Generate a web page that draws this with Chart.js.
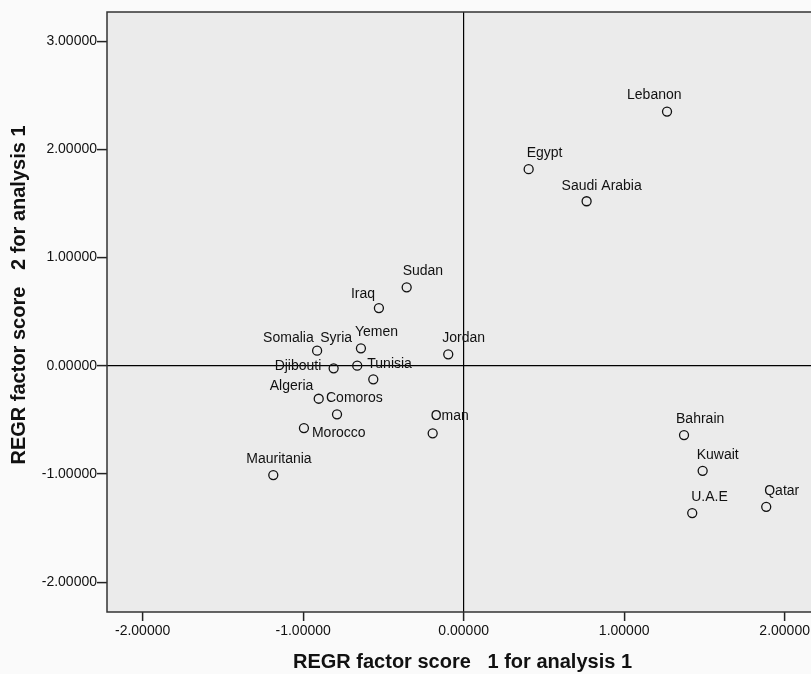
<!DOCTYPE html>
<html>
<head>
<meta charset="utf-8">
<script src="https://cdn.jsdelivr.net/npm/chart.js@4"></script>
<style>
  html, body { margin: 0; padding: 0; background: #fafafa; overflow: hidden; }
  #myChart { display: block; }
</style>
</head>
<body>
<canvas id="myChart" width="811" height="674"></canvas>
<script>
// factor scores per country
const countries = ['Lebanon', 'Egypt', 'Saudi Arabia', 'Sudan', 'Iraq', 'Somalia', 'Syria', 'Yemen', 'Jordan', 'Djibouti',
	'Tunisia', 'Algeria', 'Comoros', 'Morocco', 'Oman', 'Mauritania', 'Bahrain', 'Kuwait', 'U.A.E', 'Qatar']
const factor1 = [1.267, 0.405, 0.766, -0.355, -0.528, -0.913, -0.663, -0.640, -0.096, -0.810,
	-0.563, -0.903, -0.789, -0.995, -0.193, -1.186, 1.373, 1.489, 1.424, 1.885]
const factor2 = [2.350, 1.817, 1.521, 0.726, 0.534, 0.140, 0.001, 0.162, 0.106, -0.023,
	-0.125, -0.304, -0.448, -0.575, -0.624, -1.010, -0.640, -0.970, -1.361, -1.303]

const xTitle = 'REGR factor score   1 for analysis 1'
const yTitle = 'REGR factor score   2 for analysis 1'

// where each name sits relative to its marker (left edge, vertical middle)
const labelOffsets = {
	'Lebanon': [-40, -16], 'Egypt': [-2, -16], 'Saudi Arabia': [-25, -15], 'Sudan': [-4, -16],
	'Iraq': [-28, -14], 'Somalia': [-54, -13], 'Syria': [-37, -28], 'Yemen': [-6, -16],
	'Jordan': [-6, -16], 'Djibouti': [-59, -2], 'Tunisia': [-6, -15], 'Algeria': [-49, -13],
	'Comoros': [-11, -16], 'Morocco': [8, 5], 'Oman': [-2, -17], 'Mauritania': [-27, -16],
	'Bahrain': [-8, -16], 'Kuwait': [-6, -16], 'U.A.E': [-1, -16], 'Qatar': [-2, -16],
}

const points = factor1.map((x, i) => ({ x: x, y: factor2[i] }))
const fontFamily = '"Liberation Sans", Arial, sans-serif'

const plotFrame = {
	id: 'plotFrame',
	beforeDraw(chart) {
		const { ctx, chartArea: a } = chart
		ctx.save()
		ctx.fillStyle = '#ebebeb'
		ctx.fillRect(a.left, a.top, a.right - a.left, a.bottom - a.top)
		ctx.restore()
	},
	afterDatasetsDraw(chart) {
		const { ctx, chartArea: a } = chart
		ctx.save()
		ctx.strokeStyle = '#333'
		ctx.lineWidth = 1.5
		// the original plot runs off the right edge, so no right border
		ctx.beginPath()
		ctx.moveTo(a.right + 2, a.top)
		ctx.lineTo(a.left, a.top)
		ctx.lineTo(a.left, a.bottom)
		ctx.lineTo(a.right + 2, a.bottom)
		ctx.stroke()
		ctx.restore()
	},
}

const pointNames = {
	id: 'pointNames',
	afterDatasetsDraw(chart) {
		const ctx = chart.ctx
		const meta = chart.getDatasetMeta(0)
		ctx.save()
		ctx.font = '14px ' + fontFamily
		ctx.fillStyle = '#111'
		ctx.textAlign = 'left'
		ctx.textBaseline = 'middle'
		meta.data.forEach((pt, i) => {
			const off = labelOffsets[countries[i]] || [0, -16]
			ctx.fillText(countries[i], pt.x + off[0], pt.y + off[1])
		})
		ctx.restore()
	},
}

// axis titles, placed as in the (cropped) original
const axisTitles = {
	id: 'axisTitles',
	afterDraw(chart) {
		const ctx = chart.ctx
		ctx.save()
		ctx.font = 'bold 20px ' + fontFamily
		ctx.fillStyle = '#111'
		ctx.textAlign = 'center'
		ctx.textBaseline = 'middle'
		ctx.fillText(xTitle, 462.5, 662)
		ctx.translate(19, 295)
		ctx.rotate(-Math.PI / 2)
		ctx.fillText(yTitle, 0, 0)
		ctx.restore()
	},
}

const zeroLine = (c) => (c.tick && c.tick.value === 0 ? '#000' : 'rgba(0,0,0,0)')

const chartConfig = {
	type: 'scatter',
	data: {
		datasets: [
			{
				data: points,
				pointStyle: 'circle',
				pointRadius: 4.5,
				pointBorderWidth: 1.3,
				pointBorderColor: '#111',
				pointBackgroundColor: 'rgba(0,0,0,0)',
			},
		],
	},
	options: {
		responsive: false,
		animation: false,
		layout: { autoPadding: false, padding: { top: 12, left: 0, right: 0, bottom: 0 } },
		plugins: {
			legend: { display: false },
			tooltip: { enabled: false },
		},
		scales: {
			x: {
				type: 'linear',
				min: -2.222,
				max: 2.164,
				afterFit: (scale) => {
					scale.height = 62
					scale.paddingLeft = 0
					scale.paddingRight = 0
				},
				border: { display: false },
				grid: { color: zeroLine, lineWidth: 1.2, tickColor: '#222', tickLength: 9, tickWidth: 1.5 },
				ticks: {
					stepSize: 1,
					includeBounds: false,
					padding: 2,
					color: '#111',
					font: { family: fontFamily, size: 14 },
					callback: (v) => v.toFixed(5),
				},
			},
			y: {
				type: 'linear',
				min: -2.275,
				max: 3.27,
				afterFit: (scale) => {
					scale.width = 107
					scale.paddingTop = 0
					scale.paddingBottom = 0
				},
				border: { display: false },
				grid: { color: zeroLine, lineWidth: 1.2, tickColor: '#222', tickLength: 10, tickWidth: 1.5 },
				ticks: {
					stepSize: 1,
					includeBounds: false,
					padding: 0,
					color: '#111',
					font: { family: fontFamily, size: 14 },
					callback: (v) => v.toFixed(5),
				},
			},
		},
	},
	plugins: [plotFrame, pointNames, axisTitles],
}

window.onload = function () {
	const ctx = document.getElementById('myChart').getContext('2d')
	new Chart(ctx, chartConfig)
}
</script>
</body>
</html>
